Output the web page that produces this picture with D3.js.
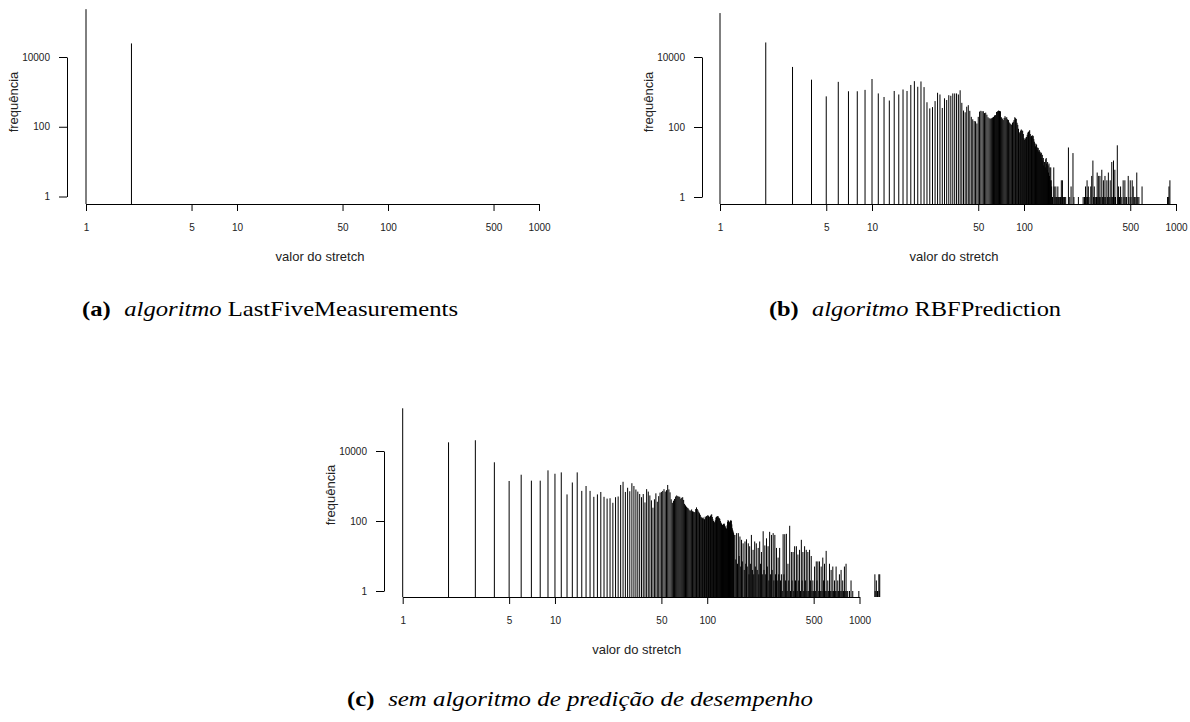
<!DOCTYPE html>
<html>
<head>
<meta charset="utf-8">
<script src="https://cdn.jsdelivr.net/npm/d3@7"></script>
<style>
  body { margin: 0; background: #fff; }
  svg { display: block; }
</style>
</head>
<body>
<svg id="chart" width="1190" height="722"></svg>
<script>
/* Stretch histograms - three log/log panels */

const xTicks = [1, 5, 10, 50, 100, 500, 1000];
const yTicks = [1, 100, 10000];

// (a) LastFiveMeasurements: frequency for stretch = 1, 2
const lastFiveFreq = [235000, 24500];

// (b) RBFPrediction: frequency for stretch = 1..152
const rbfFreq = [
  180000, 26000, 5200, 2250, 750, 1950, 1050, 1050, 1150, 2350,
  910, 720, 570, 1070, 850, 1180, 1070, 1590, 2040, 1410,
  2000, 1380, 510, 340, 370, 550, 950, 850, 350, 660,
  590, 810, 780, 910, 910, 910, 850, 1120, 490, 295,
  263, 380, 420, 290, 195, 166, 148, 145, 126, 195,
  275, 290, 282, 282, 250, 257, 224, 190, 178, 174,
  178, 186, 195, 214, 219, 269, 282, 295, 288, 282,
  190, 174, 158, 182, 204, 186, 190, 166, 158, 135,
  126, 120, 115, 132, 141, 158, 190, 178, 170, 132,
  115, 89, 71, 66, 79, 85, 79, 78, 63, 48,
  43, 46, 50, 52, 60, 69, 72, 76, 81, 63,
  52, 56, 50, 58, 55, 45, 38, 34, 28, 33,
  31, 22, 26, 25, 20, 22, 20, 17, 19, 18,
  13, 16, 11, 13, 8, 10, 10, 7, 12, 13,
  9, 6, 10, 8, 5, 9, 4, 7, 3, 7,
  3, 2
];
// (b) sparse tail: [stretch, frequency]
const rbfTail = [
  [154, 1], [157, 7], [158, 2], [160, 1], [162, 2], [163, 1], [165, 1], [167, 2],
  [168, 1], [170, 1], [172, 1], [174, 1], [176, 3], [178, 1], [179, 3], [181, 1],
  [183, 1], [185, 1], [188, 1], [196, 26], [200, 1], [204, 2], [210, 18], [213, 1],
  [228, 1], [245, 1], [250, 1], [254, 2], [257, 1], [260, 3], [262, 1], [265, 2],
  [268, 1], [275, 2], [279, 4], [284, 11], [287, 1], [290, 2], [293, 1], [297, 1],
  [300, 1], [303, 5], [306, 1], [310, 4], [313, 1], [316, 4], [320, 1], [325, 6],
  [329, 1], [333, 3], [337, 1], [341, 4], [345, 1], [351, 3], [355, 1], [359, 5],
  [364, 1], [369, 3], [374, 1], [378, 10], [383, 1], [388, 11], [392, 1], [396, 6],
  [400, 1], [411, 30], [415, 1], [419, 2], [425, 1], [432, 2], [440, 1], [449, 3],
  [455, 1], [461, 3], [468, 1], [473, 1], [485, 4], [490, 1], [500, 3], [506, 1],
  [515, 3], [523, 2], [530, 1], [536, 1], [545, 1], [552, 5], [560, 1], [570, 1],
  [598, 2], [880, 1], [890, 1], [899, 2], [912, 3]
];

// (c) no prediction: frequency for stretch = 1..150
const noPredFreq = [
  166000, 17700, 20300, 4760, 1390, 2100, 1420, 1420, 2800, 2240,
  2450, 575, 1260, 2450, 725, 1000, 725, 490, 575, 675,
  490, 436, 447, 331, 479, 501, 1070, 1320, 676, 891,
  708, 1200, 1000, 794, 692, 589, 479, 589, 339, 813,
  692, 537, 389, 240, 417, 617, 355, 513, 646, 676,
  724, 813, 692, 760, 1070, 800, 660, 417, 331, 380,
  427, 500, 537, 513, 500, 490, 436, 460, 479, 400,
  309, 280, 257, 240, 229, 210, 195, 200, 214, 190,
  186, 180, 178, 220, 245, 220, 200, 180, 166, 150,
  132, 126, 120, 126, 115, 112, 133, 126, 138, 140,
  148, 138, 130, 133, 140, 150, 155, 130, 112, 100,
  95, 90, 105, 125, 133, 128, 138, 136, 125, 120,
  115, 100, 90, 85, 80, 77, 74, 82, 85, 80,
  72, 66, 62, 60, 75, 95, 107, 100, 95, 90,
  95, 100, 107, 100, 80, 62, 55, 50, 45, 40
];
// (c) sparse tail: [stretch, frequency]
const noPredTail = [
  [152, 40], [154, 8], [156, 45], [158, 6], [160, 45], [162, 10], [164, 36], [166, 5],
  [168, 29], [170, 7], [172, 23], [175, 4], [177, 26], [179, 6], [181, 30], [183, 5],
  [186, 23], [188, 3], [190, 19], [192, 6], [195, 40], [198, 4], [200, 15], [202, 3],
  [205, 26], [207, 5], [210, 23], [213, 4], [216, 17], [218, 3], [221, 26], [224, 6],
  [227, 13], [230, 3], [233, 51], [236, 4], [239, 20], [242, 3], [245, 32], [248, 5],
  [251, 19], [254, 2], [257, 49], [260, 3], [264, 40], [267, 4], [271, 45], [274, 2],
  [278, 40], [281, 3], [285, 17], [288, 2], [292, 9], [295, 3], [299, 17], [303, 2],
  [307, 3], [311, 1], [315, 42], [319, 3], [323, 42], [327, 2], [331, 43], [335, 1],
  [339, 6], [343, 2], [348, 73], [352, 1], [357, 13], [361, 2], [366, 13], [370, 1],
  [375, 19], [380, 2], [385, 19], [390, 1], [394, 11], [399, 2], [404, 15], [410, 1],
  [415, 29], [420, 2], [425, 13], [430, 1], [436, 19], [441, 2], [447, 15], [452, 1],
  [458, 13], [464, 1], [470, 15], [476, 2], [482, 10], [488, 1], [494, 2], [500, 1],
  [507, 5], [513, 1], [520, 7], [526, 2], [533, 7], [540, 1], [546, 7], [553, 1],
  [560, 5], [567, 1], [574, 9], [581, 2], [589, 6], [596, 1], [604, 14], [611, 1],
  [619, 2], [627, 1], [635, 6], [643, 1], [651, 4], [660, 1], [668, 5], [676, 1],
  [685, 2], [694, 1], [702, 5], [711, 1], [720, 2], [729, 1], [738, 3], [747, 1],
  [757, 4], [766, 1], [776, 2], [786, 1], [796, 5], [806, 1], [816, 6], [826, 1],
  [837, 1], [860, 1], [880, 2], [903, 1], [990, 1],
  [1262, 3], [1268, 1], [1290, 2], [1313, 1], [1340, 3], [1347, 1], [1358, 3]
];

const captionLabels = ['(a)', '(b)', '(c)'];
const captionItalic = ['algoritmo', 'algoritmo', 'sem algoritmo de predição de desempenho'];
const captionRoman = ['LastFiveMeasurements', 'RBFPrediction', ''];

const svg = d3.select('#chart');
const SANS = '"Liberation Sans", Arial, Helvetica, sans-serif';
const SERIF = '"Liberation Serif", "Times New Roman", serif';

// panel placement (pixel positions of x=1, x=1000, y=1, y=10000)
const panels = [
  { freq: lastFiveFreq, tail: [], xa: 86, xb: 539, ya: 196.5, yb: 57, base: 204, axisX: 67 },
  { freq: rbfFreq, tail: rbfTail, xa: 720, xb: 1176, ya: 197, yb: 57, base: 204, axisX: 702 },
  { freq: noPredFreq, tail: noPredTail, xa: 402.7, xb: 859.5, ya: 591, yb: 451, base: 597, axisX: 384 }
];

function drawPanel(p) {
  const g = svg.append('g');

  const x = d3.scaleLog().domain([1, 1000]).range([p.xa, p.xb]);
  const y = d3.scaleLog().domain([1, 10000]).range([p.ya, p.yb]);

  const bars = p.freq.map((f, i) => ({ v: i + 1, f }))
    .concat(p.tail.map(d => ({ v: d[0], f: d[1] })))
    .filter(d => d.f > 0);

  // type="h" style vertical lines
  g.selectAll('.bar')
    .data(bars)
    .enter()
    .append('line')
    .attr('class', 'bar')
    .attr('x1', d => x(d.v))
    .attr('x2', d => x(d.v))
    .attr('y1', p.base)
    .attr('y2', d => y(d.f))
    .attr('stroke', '#000')
    .attr('stroke-width', 1);

  // x axis
  const xAxis = d3.axisBottom(x)
    .tickValues(xTicks)
    .tickFormat(d3.format('d'))
    .tickSize(7)
    .tickSizeOuter(0)
    .tickPadding(13);
  const gx = g.append('g')
    .attr('transform', `translate(0,${p.base})`)
    .call(xAxis);

  // y axis
  const yAxis = d3.axisLeft(y)
    .tickValues(yTicks)
    .tickFormat(d3.format('d'))
    .tickSize(8)
    .tickSizeOuter(0)
    .tickPadding(9);
  const gy = g.append('g')
    .attr('transform', `translate(${p.axisX},0)`)
    .call(yAxis);

  [gx, gy].forEach(a => {
    a.attr('font-family', SANS).attr('font-size', 10).attr('color', '#000');
    a.selectAll('text').attr('fill', '#222');
  });

  // axis titles
  g.append('text')
    .attr('transform', `translate(${p.axisX - 53.7},${p.base - 102}) rotate(-90)`)
    .attr('text-anchor', 'middle')
    .attr('dy', '0.35em')
    .attr('font-family', SANS)
    .attr('font-size', 13)
    .attr('fill', '#222')
    .text('frequência');

  g.append('text')
    .attr('x', p.xa + 234)
    .attr('y', p.base + 57)
    .attr('text-anchor', 'middle')
    .attr('font-family', SANS)
    .attr('font-size', 13)
    .attr('fill', '#222')
    .text('valor do stretch');
}

panels.forEach(drawPanel);

// Sub-captions
const capPos = [
  { cx: 270, y: 316 },
  { cx: 915, y: 316 },
  { cx: 580, y: 706 }
];

const caps = capPos.map((c, i) => {
  const t = svg.append('text')
    .attr('x', c.cx)
    .attr('y', c.y)
    .attr('text-anchor', 'middle')
    .attr('font-family', SERIF)
    .attr('font-size', 22)
    .attr('fill', '#000');
  t.append('tspan').attr('font-weight', 'bold').text(captionLabels[i]);
  t.append('tspan').attr('dx', 12).attr('font-style', 'italic').text(captionItalic[i]);
  if (captionRoman[i]) t.append('tspan').text(' ' + captionRoman[i]);
  return t;
});

// widen glyphs a little, Computer Modern runs wider than Times
const k = 376 / caps[0].node().getComputedTextLength();
caps.forEach(t => {
  const w = t.node().getComputedTextLength();
  t.attr('textLength', w * k).attr('lengthAdjust', 'spacingAndGlyphs');
});
</script>
</body>
</html>
